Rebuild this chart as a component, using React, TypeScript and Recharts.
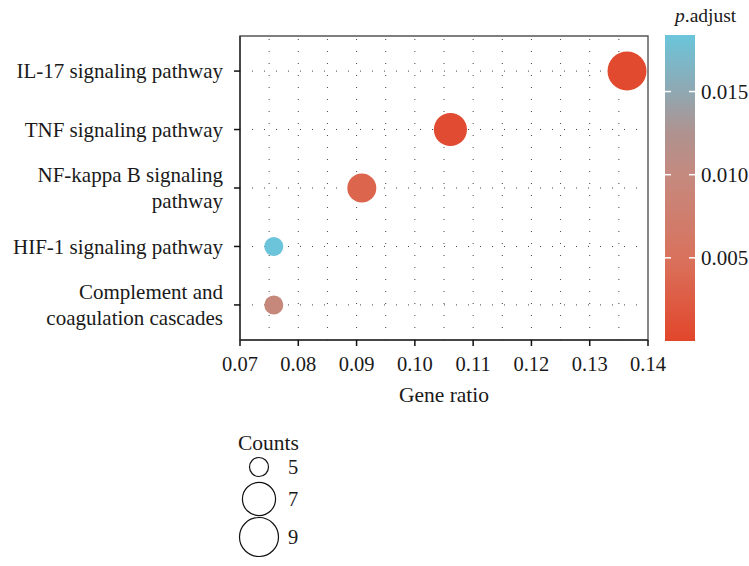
import { ScatterChart, Scatter, XAxis, YAxis, ReferenceLine, ReferenceArea } from "recharts";

// enrichment results, top to bottom
const pathways = [
  "IL-17 signaling pathway",
  "TNF signaling pathway",
  "NF-kappa B signaling\npathway",
  "HIF-1 signaling pathway",
  "Complement and\ncoagulation cascades",
];
const geneRatio = [0.1364, 0.1061, 0.0909, 0.0758, 0.0758];
const counts = [9, 7, 6, 5, 5];
const pAdjust = [0.0004, 0.0006, 0.0035, 0.0183, 0.0096];

const ratioTicks = [0.07, 0.08, 0.09, 0.1, 0.11, 0.12, 0.13, 0.14];
const ratioGrid = [0.075, 0.08, 0.085, 0.09, 0.095, 0.1, 0.105, 0.11, 0.115, 0.12, 0.125, 0.13, 0.135];
const pTicks = [0.005, 0.01, 0.015];
const countLegend = [5, 7, 9];

const P_MAX = 0.0184;
const cbStops: [number, string][] = [
  [0, "#e2462b"],
  [0.005, "#d9725d"],
  [0.01, "#c58a7f"],
  [0.0125, "#b0928f"],
  [0.015, "#8fa8b2"],
  [P_MAX, "#6bc5db"],
];

const FONT = '"Liberation Serif", "DejaVu Serif", serif';
const TXT = "#1a1a1a";

const hex = (c: string) => [1, 3, 5].map(i => parseInt(c.slice(i, i + 2), 16));
function colorFor(v: number) {
  for (let i = 1; i < cbStops.length; i++) {
    const [v0, c0] = cbStops[i - 1];
    const [v1, c1] = cbStops[i];
    if (v <= v1 || i === cbStops.length - 1) {
      const t = Math.max(0, Math.min(1, (v - v0) / (v1 - v0)));
      const a = hex(c0), b = hex(c1);
      return `rgb(${a.map((x, k) => Math.round(x + (b[k] - x) * t)).join(",")})`;
    }
  }
  return cbStops[0][1];
}

// size scale, area-like like ggplot's scale_size
const radius = (n: number) => 9.5 + 10 * Math.sqrt((n - 5) / 4);

const data = pathways.map((name, i) => ({
  idx: i,
  name,
  ratio: geneRatio[i],
  count: counts[i],
  padj: pAdjust[i],
}));

const PathwayTick = (props: any) => {
  const { x, y, payload } = props;
  const lines = pathways[payload.value].split("\n");
  const lh = 26;
  return (
    <text x={x} y={y} textAnchor="end" fontSize={21} fill={TXT} fontFamily={FONT}>
      {lines.map((l, i) => (
        <tspan key={i} x={x} y={y + (i - (lines.length - 1) / 2) * lh} dy="0.35em">
          {l}
        </tspan>
      ))}
    </text>
  );
};

const Dot = (props: any) => {
  const { cx, cy, payload } = props;
  return <circle cx={cx} cy={cy} r={radius(payload.count)} fill={colorFor(payload.padj)} />;
};

// colour bar geometry
const CB = { x: 665, w: 30, top: 35, bottom: 341 };
const cbY = (v: number) => CB.bottom - (v / P_MAX) * (CB.bottom - CB.top);

export default function App() {
  const dotted = { stroke: "#444", strokeDasharray: "1 11", strokeWidth: 1 };
  return (
    <div style={{ position: "absolute", left: 0, top: 0, width: 749, height: 566, background: "#fff", fontFamily: FONT }}>
      <ScatterChart width={749} height={566} margin={{ top: 36, right: 101, bottom: 0, left: 0 }}>
        {ratioGrid.map(v => (
          <ReferenceLine key={"x" + v} x={v} {...dotted} />
        ))}
        {data.map(d => (
          <ReferenceLine key={"y" + d.idx} y={d.idx} {...dotted} />
        ))}
        <ReferenceArea x1={0.07} x2={0.14} y1={-0.6} y2={4.6} fill="none" stroke="#555" strokeWidth={1.4} />
        <XAxis
          type="number"
          dataKey="ratio"
          domain={[0.07, 0.14]}
          ticks={ratioTicks}
          tickFormatter={(v: number) => v.toFixed(2)}
          height={226}
          tickSize={6}
          tickMargin={10}
          axisLine={{ stroke: "#333", strokeWidth: 1.5 }}
          tickLine={{ stroke: "#111", strokeWidth: 1.5 }}
          tick={{ fill: TXT, fontSize: 20.5, fontFamily: FONT }}
          label={{ value: "Gene ratio", position: "insideTop", offset: 47, fill: TXT, fontSize: 21.5, fontFamily: FONT }}
        />
        <YAxis
          type="number"
          dataKey="idx"
          domain={[-0.6, 4.6]}
          reversed
          ticks={data.map(d => d.idx)}
          width={240}
          tickSize={6}
          tickMargin={11}
          axisLine={{ stroke: "#333", strokeWidth: 1.5 }}
          tickLine={{ stroke: "#111", strokeWidth: 1.5 }}
          tick={<PathwayTick />}
        />
        <Scatter data={data} shape={<Dot />} isAnimationActive={false} />
      </ScatterChart>

      <svg width={749} height={566} style={{ position: "absolute", left: 0, top: 0, pointerEvents: "none" }}>
        <defs>
          <linearGradient id="cb" x1="0" y1="1" x2="0" y2="0">
            {cbStops.map(([v, c]) => (
              <stop key={v} offset={v / P_MAX} stopColor={c} />
            ))}
          </linearGradient>
        </defs>
        <text x={675} y={22} fontSize={19.5} fill={TXT} fontFamily={FONT}>
          <tspan fontStyle="italic">p</tspan>.adjust
        </text>
        <rect x={CB.x} y={CB.top} width={CB.w} height={CB.bottom - CB.top} fill="url(#cb)" />
        {pTicks.map(v => (
          <g key={v}>
            <line x1={CB.x} x2={CB.x + 6} y1={cbY(v)} y2={cbY(v)} stroke="#fff" strokeWidth={1.5} />
            <line x1={CB.x + CB.w - 6} x2={CB.x + CB.w} y1={cbY(v)} y2={cbY(v)} stroke="#fff" strokeWidth={1.5} />
            <text x={701} y={cbY(v)} dy="0.35em" fontSize={21} fill={TXT} fontFamily={FONT}>
              {v.toFixed(3)}
            </text>
          </g>
        ))}

        <text x={238} y={450} fontSize={21.5} fill={TXT} fontFamily={FONT}>
          Counts
        </text>
        {countLegend.map((n, i) => {
          const cy = [467, 499, 537][i];
          return (
            <g key={n}>
              <circle cx={259} cy={cy} r={radius(n)} fill="none" stroke="#111" strokeWidth={1.2} />
              <text x={288} y={cy} dy="0.35em" fontSize={20.5} fill={TXT} fontFamily={FONT}>
                {n}
              </text>
            </g>
          );
        })}
      </svg>
    </div>
  );
}
